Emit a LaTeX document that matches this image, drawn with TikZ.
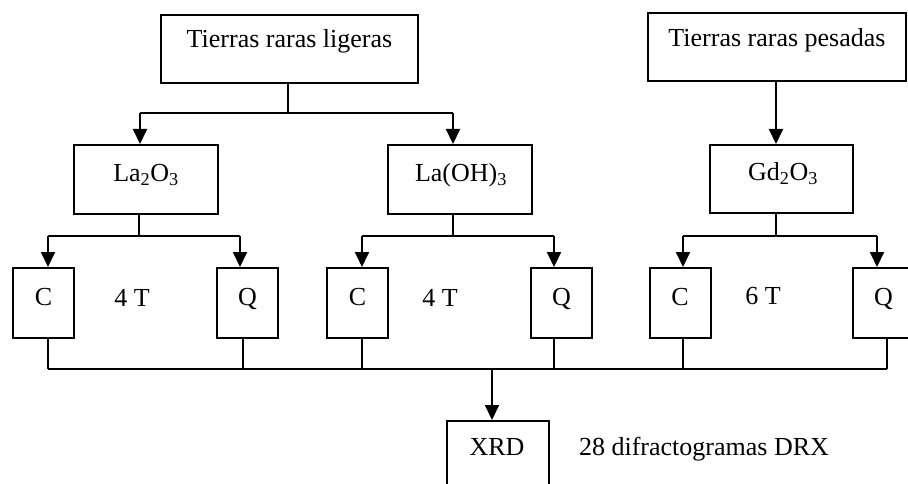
\documentclass[tikz,border=0pt]{standalone}
\usepackage{fontspec}
\setmainfont{Liberation Serif}
\usetikzlibrary{arrows.meta}
\begin{document}
\begin{tikzpicture}[x=1pt,y=-1pt,
  box/.style={draw, line width=2pt, inner sep=0pt},
  big/.style={box, minimum width=257pt, minimum height=68pt},
  mid/.style={box, minimum width=144pt, minimum height=69pt},
  small/.style={box, minimum width=61pt, minimum height=70pt},
  lbl/.style={anchor=base, inner sep=0pt, font=\fontsize{26}{30}\selectfont},
  ln/.style={line width=2pt},
  arr/.style={line width=2pt, -{Triangle[length=15pt,width=14pt]}}]
\clip (0,0) rectangle (908,484);
\fill[white] (0,0) rectangle (908,484);
% top boxes
\node[big] (lig) at (289.5,49) {};
\node[big, minimum width=258pt] (pes) at (777,47.5) {};
\node[lbl] (tlig) at (289.5,48) {Tierras raras ligeras};
\node[lbl] (tpes) at (777,47) {Tierras raras pesadas};
% middle boxes
\node[mid] (la2) at (146,179.5) {};
\node[mid] (laoh) at (460,179.5) {};
\node[mid, minimum width=143pt, minimum height=68pt] (gd) at (781.5,179) {};
\node[lbl] (tla2) at (146,182) {La\textsubscript{2}O\textsubscript{3}};
\node[lbl] (tlaoh) at (461,182) {La(OH)\textsubscript{3}};
\node[lbl] (tgd) at (783,181) {Gd\textsubscript{2}O\textsubscript{3}};
% small boxes
\node[small] (c1) at (43.5,303) {};
\node[small] (q1) at (247.5,303) {};
\node[small] (c2) at (357.5,303) {};
\node[small] (q2) at (561.5,303) {};
\node[small] (c3) at (680,303) {};
\node[small] (q3) at (883.5,303) {};
\node[lbl] (tc1) at (43.5,305) {C};
\node[lbl] (tq1) at (247.5,305) {Q};
\node[lbl] (tc2) at (357.5,305) {C};
\node[lbl] (tq2) at (561.5,305) {Q};
\node[lbl] (tc3) at (680,305) {C};
\node[lbl] (tq3) at (883.5,305) {Q};
\node[lbl] (t4a) at (132,306) {4 T};
\node[lbl] (t4b) at (440,306) {4 T};
\node[lbl] (t6) at (763,304) {6 T};
% XRD
\node[box, minimum width=102pt, minimum height=90pt] (xrd) at (498,466) {};
\node[lbl] (txrd) at (497,455) {XRD};
\node[lbl] (tdrx) at (704,455) {28 difractogramas DRX};
% junction coordinates
\coordinate (j1) at (288,113);
\coordinate (j1a) at (140,113);
\coordinate (j1b) at (453,113);
\coordinate (j2) at (776,82);
\coordinate (k1) at (139,236);
\coordinate (k1a) at (48,236);
\coordinate (k1b) at (240,236);
\coordinate (k2) at (453,236);
\coordinate (k2a) at (362,236);
\coordinate (k2b) at (554,236);
\coordinate (k3) at (776,236);
\coordinate (k3a) at (683,236);
\coordinate (k3b) at (877,236);
\coordinate (m1) at (48,369);
\coordinate (m2) at (243,369);
\coordinate (m3) at (362,369);
\coordinate (m4) at (554,369);
\coordinate (m5) at (683,369);
\coordinate (m6) at (887,369);
\coordinate (mx) at (492,369);
% connectors top
\draw[ln] (lig.south -| j1) -- (j1);
\draw[ln] (j1a) -- (j1b);
\draw[arr] (j1a) -- (j1a |- la2.north);
\draw[arr] (j1b) -- (j1b |- laoh.north);
\draw[arr] (j2) -- (j2 |- gd.north);
% connectors middle
\draw[ln] (la2.south -| k1) -- (k1);
\draw[ln] (k1a) -- (k1b);
\draw[arr] (k1a) -- (k1a |- c1.north);
\draw[arr] (k1b) -- (k1b |- q1.north);
\draw[ln] (laoh.south -| k2) -- (k2);
\draw[ln] (k2a) -- (k2b);
\draw[arr] (k2a) -- (k2a |- c2.north);
\draw[arr] (k2b) -- (k2b |- q2.north);
\draw[ln] (gd.south -| k3) -- (k3);
\draw[ln] (k3a) -- (k3b);
\draw[arr] (k3a) -- (k3a |- c3.north);
\draw[arr] (k3b) -- (k3b |- q3.north);
% connectors bottom
\draw[ln] (c1.south -| m1) -- (m1);
\draw[ln] (q1.south -| m2) -- (m2);
\draw[ln] (c2.south -| m3) -- (m3);
\draw[ln] (q2.south -| m4) -- (m4);
\draw[ln] (c3.south -| m5) -- (m5);
\draw[ln] (q3.south -| m6) -- (m6);
\draw[ln] (m1) -- (m6);
\draw[arr] (mx) -- (mx |- xrd.north);
\end{tikzpicture}
\end{document}
